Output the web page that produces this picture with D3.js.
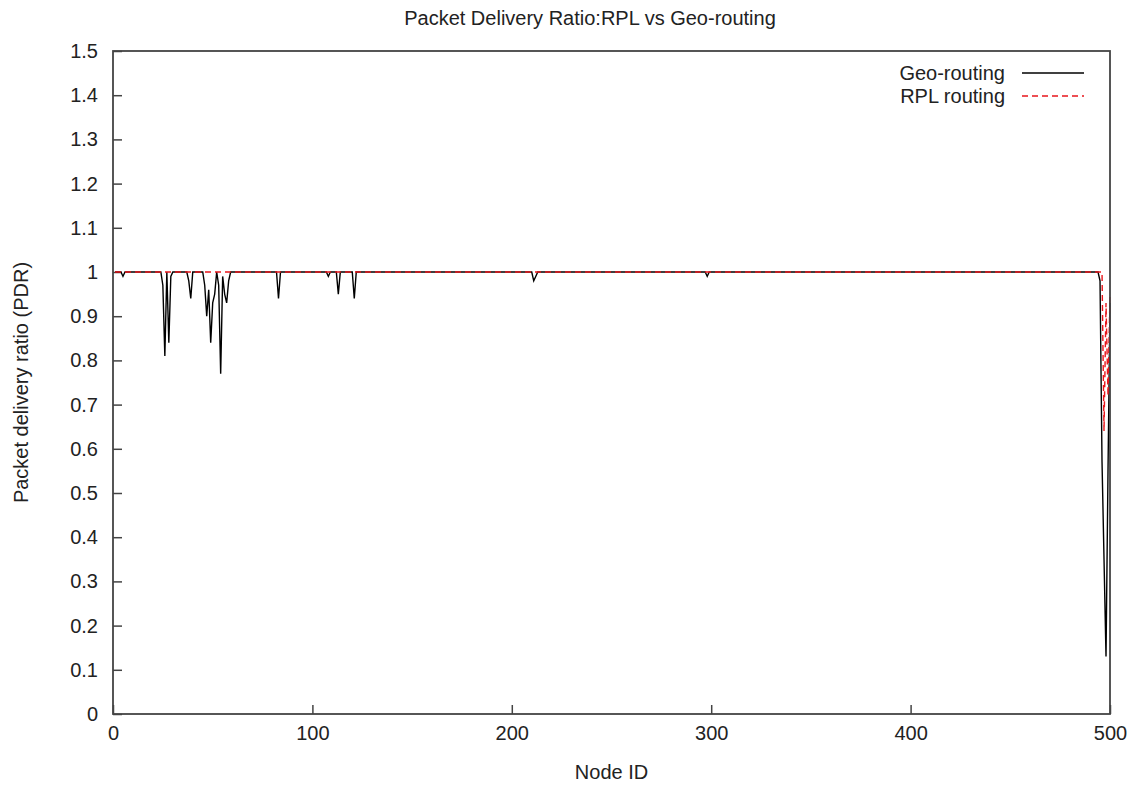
<!DOCTYPE html>
<html>
<head>
<meta charset="utf-8">
<script src="https://cdn.jsdelivr.net/npm/d3@7"></script>
<style>
  body { margin: 0; background: #fff; }
  text { font-family: "Liberation Sans", Arial, sans-serif; fill: #222; }
</style>
</head>
<body>
<svg id="chart"></svg>
<script>
"use strict";

var Width = 1144,
    Height = 786,
    margin = { top: 51, right: 34, bottom: 72, left: 113 };

// node ids run 1..500, every node delivers 1.0 except the ones listed here
var nodeCount = 500;
var geoDipNodes  = [5, 25, 26, 28, 29, 38, 39, 46, 47, 48, 49, 50, 51, 53, 54, 55, 56, 57, 58, 83, 108, 113, 121, 211, 212, 298, 495, 496, 497, 498, 499, 500];
var geoDipValues = [0.99, 0.97, 0.81, 0.84, 0.99, 0.98, 0.94, 0.97, 0.90, 0.96, 0.84, 0.93, 0.95, 0.97, 0.77, 0.99, 0.95, 0.93, 0.98, 0.94, 0.99, 0.95, 0.94, 0.98, 0.99, 0.99, 0.98, 0.57, 0.35, 0.13, 0.55, 0.93];
var rplDipNodes  = [497, 498, 499, 500];
var rplDipValues = [0.64, 0.93, 0.72, 0.95];

var xTicks = [0, 100, 200, 300, 400, 500];
var yTicks = [0, 0.1, 0.2, 0.3, 0.4, 0.5, 0.6, 0.7, 0.8, 0.9, 1, 1.1, 1.2, 1.3, 1.4, 1.5];

var series = [
    { name: "Geo-routing", dipNodes: geoDipNodes, dipValues: geoDipValues, color: "#000", dash: null },
    { name: "RPL routing", dipNodes: rplDipNodes, dipValues: rplDipValues, color: "#e8161b", dash: "6,4" }
];

series.forEach(function (s) {
    s.values = d3.range(1, nodeCount + 1).map(function (n) {
        var i = s.dipNodes.indexOf(n);
        return { node: n, pdr: i < 0 ? 1 : s.dipValues[i] };
    });
});

var svg = d3.select("#chart")
    .attr("width", Width)
    .attr("height", Height);

var x = d3.scaleLinear().domain([0, 500]).range([margin.left, Width - margin.right]);
var y = d3.scaleLinear().domain([0, 1.5]).range([Height - margin.bottom, margin.top]);

// axes, ticks pointing into the plot
svg.append("g")
    .attr("class", "axis")
    .attr("transform", "translate(0," + y(0) + ")")
    .call(d3.axisBottom(x).tickValues(xTicks).tickSize(-9).tickPadding(12).tickFormat(d3.format("d")))
    .call(function (g) {
        g.select(".domain").remove();
        g.selectAll("line").attr("stroke", "#444").attr("stroke-width", 1.5);
        g.selectAll("text").attr("font-size", 20).style("fill", "#222");
    });

svg.append("g")
    .attr("class", "axis")
    .attr("transform", "translate(" + x(0) + ",0)")
    .call(d3.axisLeft(y).tickValues(yTicks).tickSize(-9).tickPadding(15).tickFormat(function (d) { return d3.format("~g")(d); }))
    .call(function (g) {
        g.select(".domain").remove();
        g.selectAll("line").attr("stroke", "#444").attr("stroke-width", 1.5);
        g.selectAll("text").attr("font-size", 20).style("fill", "#222");
    });

var line = d3.line()
    .x(function (d) { return x(d.node); })
    .y(function (d) { return y(d.pdr); });

var plot = svg.append("g");

series.forEach(function (s) {
    plot.append("path")
        .datum(s.values)
        .attr("fill", "none")
        .attr("stroke", s.color)
        .attr("stroke-width", 1.4)
        .attr("stroke-dasharray", s.dash)
        .attr("d", line);
});

// frame
svg.append("rect")
    .attr("x", x(0))
    .attr("y", y(1.5))
    .attr("width", x(500) - x(0))
    .attr("height", y(0) - y(1.5))
    .attr("fill", "none")
    .attr("stroke", "#444")
    .attr("stroke-width", 1.8);

// legend
var legend = svg.append("g")
    .attr("transform", "translate(" + 1005 + "," + 73 + ")");

series.forEach(function (s, i) {
    legend.append("text")
        .attr("x", 0)
        .attr("y", i * 23)
        .attr("dy", "0.35em")
        .attr("text-anchor", "end")
        .attr("font-size", 20)
        .text(s.name);
    legend.append("line")
        .attr("x1", 17)
        .attr("x2", 79)
        .attr("y1", i * 23)
        .attr("y2", i * 23)
        .attr("stroke", s.color)
        .attr("stroke-width", 1.4)
        .attr("stroke-dasharray", s.dash);
});

// titles
svg.append("text")
    .attr("x", 590)
    .attr("y", 25)
    .attr("text-anchor", "middle")
    .attr("font-size", 20)
    .text("Packet Delivery Ratio:RPL vs Geo-routing");

svg.append("text")
    .attr("x", (x(0) + x(500)) / 2)
    .attr("y", 779)
    .attr("text-anchor", "middle")
    .attr("font-size", 20)
    .text("Node ID");

svg.append("text")
    .attr("transform", "translate(28," + ((y(0) + y(1.5)) / 2) + ") rotate(-90)")
    .attr("text-anchor", "middle")
    .attr("font-size", 20)
    .text("Packet delivery ratio (PDR)");
</script>
</body>
</html>
